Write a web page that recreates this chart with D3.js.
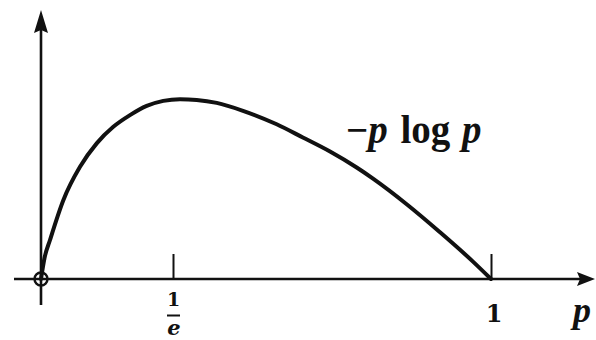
<!DOCTYPE html>
<html>
<head>
<meta charset="utf-8">
<script src="https://cdn.jsdelivr.net/npm/d3@7"></script>
<style>
  html, body { margin: 0; padding: 0; background: #fff; }
  svg { display: block; }
  .lbl { font-family: "Liberation Serif", "DejaVu Serif", serif; fill: #111; font-weight: bold; }
  .num { font-family: "DejaVu Serif", "Liberation Serif", serif; fill: #111; font-weight: bold; }
</style>
</head>
<body>
<svg id="chart" width="596" height="340"></svg>
<script>
// Sampled points of the entropy term -p log p on 0 <= p <= 1
const curveP = [0, 0.0098, 0.0251, 0.0622, 0.1087, 0.1552, 0.2015, 0.248, 0.2946, 0.3409,
                0.3818, 0.415, 0.4548, 0.507, 0.574, 0.626, 0.680, 0.733, 0.7655, 0.8324,
                0.8986, 0.9642, 1];
const curveH = [0, 0.0431, 0.0800, 0.1617, 0.2302, 0.2783, 0.3123, 0.3363, 0.3552, 0.3655,
                0.3690, 0.3675, 0.3614, 0.3452, 0.3175, 0.2904, 0.2616, 0.2288, 0.2060, 0.1535,
                0.0960, 0.0357, 0];
// Marked points on the p axis
const tickP = [1 / Math.E, 1];
const yMax = 0.55;

const svg = d3.select("#chart");
const ink = "#111";

const x = d3.scaleLinear().domain([0, 1 / Math.E, 1]).range([41, 173, 491]);
const y = d3.scaleLinear().domain([0, yMax]).range([279, 11]);

const x0 = x(0), y0 = y(0);

// horizontal axis with arrow
svg.append("line")
  .attr("x1", 14).attr("x2", 588).attr("y1", y0).attr("y2", y0)
  .attr("stroke", ink).attr("stroke-width", 2.6);
svg.append("path")
  .attr("d", `M595,${y0} L577,${y0 - 7} L580,${y0} L577,${y0 + 7} Z`)
  .attr("fill", ink);

// vertical axis with arrow
const yTop = y(yMax) - 1;
svg.append("line")
  .attr("x1", x0).attr("x2", x0).attr("y1", 305).attr("y2", yTop + 12)
  .attr("stroke", ink).attr("stroke-width", 2.6);
svg.append("path")
  .attr("d", `M${x0},${yTop} L${x0 + 7},${yTop + 23} L${x0},${yTop + 20} L${x0 - 7},${yTop + 23} Z`)
  .attr("fill", ink);

// tick marks rising from the p axis
const axis = d3.axisBottom(x).tickValues(tickP).tickSize(-25).tickFormat("");
const gAxis = svg.append("g").attr("transform", `translate(0,${y0})`).call(axis);
gAxis.select(".domain").remove();
gAxis.selectAll(".tick line").attr("stroke", ink).attr("stroke-width", 2);

// curve
const pts = curveP.map((p, i) => [x(p), y(curveH[i])]);
svg.append("path")
  .datum(pts)
  .attr("d", d3.line().curve(d3.curveMonotoneX))
  .attr("fill", "none")
  .attr("stroke", ink)
  .attr("stroke-width", 4)
  .attr("stroke-linecap", "round");

// open circle at the origin
svg.append("circle")
  .attr("cx", x0).attr("cy", y0).attr("r", 6.5)
  .attr("fill", "none").attr("stroke", ink).attr("stroke-width", 2.4);

// tick labels: 1/e as a stacked fraction, and 1
const xe = x(tickP[0]);
svg.append("text").attr("class", "num")
  .attr("x", xe + 0.5).attr("y", 306).attr("text-anchor", "middle")
  .style("font-size", "19px").text("1");
svg.append("line")
  .attr("x1", xe - 6).attr("x2", xe + 7).attr("y1", 315.5).attr("y2", 315.5)
  .attr("stroke", ink).attr("stroke-width", 2);
svg.append("text").attr("class", "num")
  .attr("x", xe + 1).attr("y", 334.5).attr("text-anchor", "middle")
  .style("font-size", "21px").style("font-style", "italic").text("e");

svg.append("text").attr("class", "num")
  .attr("x", x(tickP[1]) + 3).attr("y", 322).attr("text-anchor", "middle")
  .style("font-size", "24px").text("1");

// axis name
svg.append("text").attr("class", "lbl")
  .attr("x", 573).attr("y", 322)
  .style("font-size", "36px").style("font-style", "italic").text("p");

// curve label
const cl = svg.append("text").attr("class", "lbl")
  .attr("x", 346).attr("y", 143).style("font-size", "39px");
cl.append("tspan").text("\u2212");
cl.append("tspan").style("font-style", "italic").text("p");
cl.append("tspan").attr("dx", 3).text(" log ");
cl.append("tspan").attr("dx", 2).style("font-style", "italic").text("p");
</script>
</body>
</html>
